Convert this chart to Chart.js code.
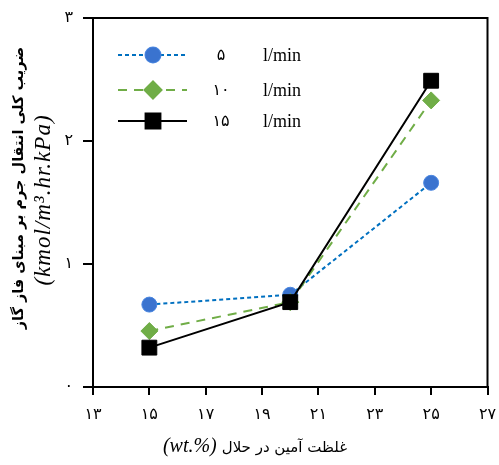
<!DOCTYPE html>
<html>
<head>
<meta charset="utf-8">
<script src="https://cdn.jsdelivr.net/npm/chart.js@4.4.1/dist/chart.umd.min.js"></script>
<style>
  html, body { margin: 0; padding: 0; background: #fff; }
</style>
</head>
<body>
<canvas id="grafico" width="499" height="465"></canvas>
<script>
// datos
const concentracion = [15, 20, 25];
const serie5 = [0.67, 0.75, 1.66];
const serie10 = [0.455, 0.69, 2.33];
const serie15 = [0.32, 0.69, 2.49];
const nombresSeries = ["۵", "۱۰", "۱۵"];
const xTicks = ["۱۳", "۱۵", "۱۷", "۱۹", "۲۱", "۲۳", "۲۵", "۲۷"];
const yTicks = ["۰", "۱", "۲", "۳"];

const fuenteLatina = "'Liberation Serif', 'DejaVu Serif', serif";
const fuentePersa = "'DejaVu Sans', 'Noto Sans', sans-serif";

function puntos(valores) {
  return concentracion.map((x, i) => ({ x: x, y: valores[i] }));
}

const estilos = [
  { color: "#0070C0", fondo: "#3A73CF", borde: "#4A86E0", dash: [4, 3], forma: "circle", radio: 7.5 },
  { color: "#70AD47", fondo: "#70AD47", borde: "#70AD47", dash: [9, 7], forma: "rectRot", radio: 8.5 },
  { color: "#000000", fondo: "#000000", borde: "#000000", dash: [], forma: "rect", radio: 10.5 },
];

const marco = {
  id: "marco",
  afterDraw(chart) {
    const ctx = chart.ctx;
    const a = chart.chartArea;
    ctx.save();
    ctx.strokeStyle = "#000";
    ctx.lineWidth = 2;
    ctx.strokeRect(a.left, a.top, a.right - a.left, a.bottom - a.top);
    ctx.restore();
  },
};

const leyenda = {
  id: "leyenda",
  afterDraw(chart) {
    const ctx = chart.ctx;
    const filas = [55, 90, 121];
    ctx.save();
    estilos.forEach((e, i) => {
      const y = filas[i];
      ctx.strokeStyle = e.color;
      ctx.lineWidth = 2;
      ctx.setLineDash(e.dash);
      ctx.beginPath();
      ctx.moveTo(118, y);
      ctx.lineTo(187, y);
      ctx.stroke();
      ctx.setLineDash([]);
      ctx.fillStyle = e.fondo;
      ctx.strokeStyle = e.borde;
      Chart.helpers.drawPoint(ctx, { pointStyle: e.forma, radius: e.radio, rotation: 0, borderWidth: 1 }, 153, y);
      ctx.fill();
      ctx.fillStyle = "#000";
      ctx.textBaseline = "middle";
      ctx.textAlign = "center";
      ctx.font = "16px " + fuentePersa;
      ctx.fillText(nombresSeries[i], 221, y + 1);
      ctx.textAlign = "left";
      ctx.font = "18px " + fuenteLatina;
      ctx.fillText("l/min", 263, y + 1);
    });
    ctx.restore();
  },
};

const titulos = {
  id: "titulos",
  afterDraw(chart) {
    const ctx = chart.ctx;
    ctx.save();
    ctx.fillStyle = "#000";
    ctx.textBaseline = "middle";

    // titulo eje x
    const persa = "غلظت آمین در حلال";
    const latino = "(wt.%)";
    ctx.font = "15px " + fuentePersa;
    const wP = ctx.measureText(persa).width;
    ctx.font = "italic 20px " + fuenteLatina;
    const wL = ctx.measureText(latino).width;
    const inicio = 255 - (wP + wL + 5) / 2;
    ctx.textAlign = "left";
    ctx.fillText(latino, inicio, 447);
    ctx.font = "15px " + fuentePersa;
    ctx.fillText(persa, inicio + wL + 5, 448);

    // titulo eje y
    ctx.save();
    ctx.translate(19, 188);
    ctx.rotate(-Math.PI / 2);
    ctx.textAlign = "center";
    ctx.font = "bold 14.5px " + fuentePersa;
    ctx.fillText("ضریب کلی انتقال جرم بر مبنای فاز گاز", 0, 0);
    ctx.restore();
    ctx.save();
    ctx.translate(44, 200);
    ctx.rotate(-Math.PI / 2);
    ctx.textAlign = "center";
    ctx.font = "italic 23px " + fuenteLatina;
    ctx.letterSpacing = "1px";
    ctx.fillText("(kmol/m³.hr.kPa)", 0, 0);
    ctx.restore();
    ctx.restore();
  },
};

const datasets = [serie5, serie10, serie15].map((valores, i) => {
  const e = estilos[i];
  return {
    label: nombresSeries[i] + " l/min",
    data: puntos(valores),
    borderColor: e.color,
    borderWidth: 2,
    borderDash: e.dash,
    pointStyle: e.forma,
    pointRadius: e.radio,
    pointBackgroundColor: e.fondo,
    pointBorderColor: e.borde,
    pointBorderWidth: 1,
    tension: 0,
    order: 3 - i,
  };
});

new Chart(document.getElementById("grafico").getContext("2d"), {
  type: "scatter",
  data: { datasets: datasets },
  options: {
    responsive: false,
    animation: false,
    devicePixelRatio: 1,
    showLine: true,
    layout: { padding: { top: 18, right: 10, left: 0, bottom: 0 } },
    plugins: {
      legend: { display: false },
      tooltip: { enabled: false },
    },
    elements: { line: { fill: false } },
    scales: {
      x: {
        type: "linear",
        min: 13,
        max: 27,
        afterBuildTicks(scale) {
          scale.ticks = xTicks.map((t, i) => ({ value: 13 + i * 2 }));
        },
        afterFit(scale) {
          scale.height = 78;
          scale.paddingLeft = 0;
          scale.paddingRight = 0;
        },
        ticks: {
          color: "#000",
          padding: 10,
          maxRotation: 0,
          font: { size: 16, family: fuentePersa },
          callback: (v, i) => xTicks[i],
        },
        grid: { drawOnChartArea: false, drawTicks: true, tickLength: 8, color: "#000", lineWidth: 2 },
        border: { color: "#000", width: 2 },
      },
      y: {
        type: "linear",
        min: 0,
        max: 3,
        afterBuildTicks(scale) {
          scale.ticks = yTicks.map((t, i) => ({ value: i }));
        },
        afterFit(scale) {
          scale.width = 93;
          scale.paddingTop = 0;
          scale.paddingBottom = 0;
        },
        ticks: {
          color: "#000",
          padding: 10,
          font: { size: 16, family: fuentePersa },
          callback: (v, i) => yTicks[i],
        },
        grid: { drawOnChartArea: false, drawTicks: true, tickLength: 10, color: "#000", lineWidth: 2 },
        border: { color: "#000", width: 2 },
      },
    },
  },
  plugins: [marco, leyenda, titulos],
});
</script>
</body>
</html>
